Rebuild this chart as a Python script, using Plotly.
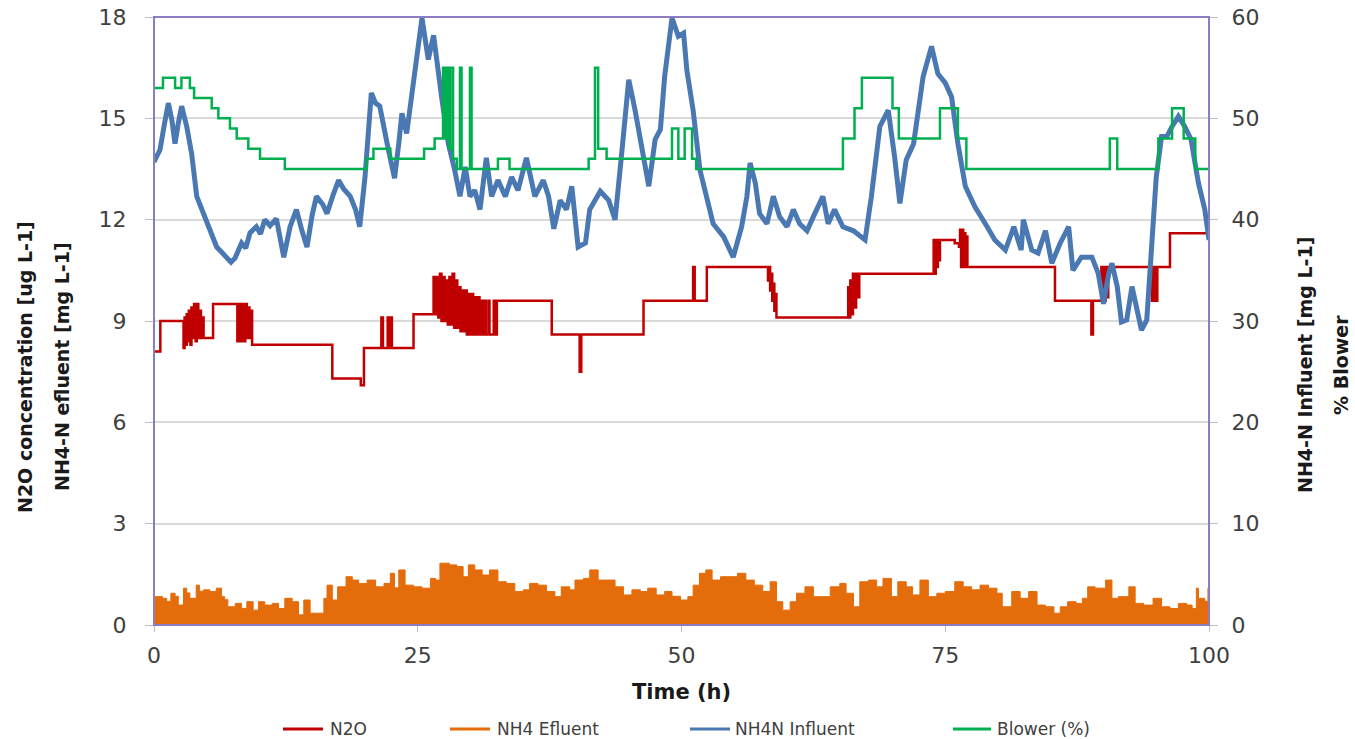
import plotly.graph_objects as go

# ---------------- data ----------------
time_ticks = [0, 25, 50, 75, 100]

# N2O concentration (left axis) - step series
n2o_t = [0, 0.6, 2.8, 2.9, 3.0, 3.1, 3.2, 3.3, 3.45, 3.55, 3.7, 3.8, 3.95, 4.05, 4.2, 4.3, 4.45, 4.55,
         4.7, 5.6, 7.9, 8.1, 8.3, 8.4, 8.55, 8.65, 8.8, 8.9, 9.05, 9.15, 9.3, 16.9, 19.6, 19.9,
         21.55, 21.7, 22.15, 22.3, 22.45, 22.55, 24.6, 26.5, 26.65, 26.8, 26.95, 27.1, 27.25, 27.4,
         27.55, 27.7, 27.85, 28.0, 28.15, 28.3, 28.45, 28.6, 28.75, 28.9, 29.05, 29.2, 29.35, 29.5,
         29.65, 29.8, 29.95, 30.1, 30.25, 30.4, 30.55, 30.7, 30.85, 31.0, 31.15, 31.3, 31.45, 31.7,
         31.8, 32.2, 32.3, 32.5, 37.7, 40.35, 40.5, 46.4, 51.1, 51.25, 52.4, 58.2, 58.3, 58.4, 58.5,
         58.6, 58.7, 58.8, 58.9, 59.0, 65.8, 65.9, 66.0, 66.1, 66.25, 66.4, 66.55, 66.7, 66.85, 67.0,
         73.9, 74.0, 74.1, 74.2, 74.3, 74.4, 74.5, 75.9, 76.3, 76.4, 76.5, 76.6, 76.7, 76.8, 76.9,
         77.0, 77.1, 85.4, 88.85, 89.0, 89.8, 89.9, 90.0, 90.1, 90.2, 90.3, 90.45, 94.6, 94.7, 94.8,
         94.9, 95.0, 95.1, 96.3, 100]
n2o_v = [8.1, 9.0, 8.2, 9.1, 8.3, 9.2, 8.4, 9.3, 8.3, 9.4, 8.5, 9.5, 8.4, 9.5, 8.5, 9.3, 8.5, 9.1,
         8.5, 9.5, 8.4, 9.5, 8.4, 9.5, 8.4, 9.5, 8.5, 9.4, 8.5, 9.3, 8.3, 7.3, 7.1, 8.2,
         9.1, 8.2, 9.1, 8.2, 9.1, 8.2, 9.2, 10.3, 9.2, 10.3, 9.1, 10.4, 9.0, 10.3,
         9.0, 10.2, 8.9, 10.3, 8.9, 10.4, 8.8, 10.2, 8.8, 10.0, 8.7, 9.9, 8.7, 9.9,
         8.6, 9.8, 8.6, 9.8, 8.6, 9.7, 8.6, 9.7, 8.6, 9.6, 8.6, 9.6, 8.6, 9.6,
         8.6, 9.6, 8.6, 9.6, 8.6, 7.5, 8.6, 9.6, 10.6, 9.6, 10.6, 10.2, 10.6, 9.9, 10.4,
         9.6, 10.1, 9.3, 9.8, 9.1, 10.0, 9.1, 10.2, 9.2, 10.4, 9.4, 10.4, 9.7, 10.4, 10.4,
         11.4, 10.4, 11.4, 10.6, 11.4, 10.8, 11.4, 11.3, 11.2, 11.7, 10.6, 11.7, 10.6, 11.6, 10.6,
         11.5, 10.6, 9.6, 8.6, 9.6, 10.6, 9.6, 10.6, 9.6, 10.6, 9.7, 10.6, 9.6, 10.6, 9.6,
         10.6, 9.6, 10.6, 11.6, 11.6]

# NH4 effluent (left axis)
eff_t = [0, 0.8, 1.2, 1.6, 2.0, 2.3, 2.8, 3.1, 3.4, 4.0, 4.3, 4.7, 5.3, 5.9, 6.4, 6.7, 7.0, 7.7, 8.3,
         8.8, 9.4, 9.9, 10.5, 11.2, 11.8, 12.4, 13.1, 13.7, 14.2, 14.8, 15.4, 16.1, 16.4, 16.9, 17.4,
         18.2, 18.8, 19.4, 20.2, 21.0, 21.8, 22.4, 22.8, 23.2, 23.8, 24.6, 25.4, 26.2, 26.7, 27.1,
         28.0, 28.7, 29.3, 29.8, 30.4, 31.1, 31.8, 32.6, 33.4, 34.2, 35.0, 35.6, 36.4, 37.2, 38.0,
         38.6, 39.4, 39.9, 40.7, 41.3, 42.1, 42.9, 43.7, 44.5, 45.3, 46.1, 46.8, 47.6, 48.4, 49.1,
         49.9, 50.6, 51.1, 51.7, 52.3, 52.9, 53.7, 54.5, 55.3, 56.1, 56.9, 57.7, 58.4, 59.0, 59.6,
         60.3, 60.9, 61.7, 62.5, 63.3, 64.1, 65.0, 65.6, 66.3, 66.9, 67.7, 68.5, 69.1, 69.9, 70.5,
         71.3, 71.9, 72.6, 73.4, 74.2, 75.0, 75.9, 76.7, 77.5, 78.3, 79.1, 79.9, 80.4, 81.3, 82.1,
         82.9, 83.7, 84.5, 85.3, 85.9, 86.6, 87.4, 88.0, 88.5, 89.2, 90.2, 90.8, 91.4, 92.4, 93.0,
         93.8, 94.7, 95.5, 96.3, 97.1, 97.9, 98.4, 98.8, 99.0, 99.6, 99.9, 100]
eff_v = [0.84, 0.79, 0.70, 0.94, 0.85, 0.59, 1.09, 0.95, 0.79, 1.18, 1.00, 1.04, 0.99, 1.09, 0.84, 0.75,
         0.54, 0.64, 0.49, 0.69, 0.44, 0.69, 0.59, 0.64, 0.49, 0.79, 0.69, 0.30, 0.74, 0.35, 0.35,
         0.79, 1.18, 0.74, 1.13, 1.43, 1.33, 1.23, 1.33, 1.13, 1.23, 1.53, 1.10, 1.63, 1.18, 1.13,
         1.09, 1.38, 1.33, 1.83, 1.78, 1.73, 1.43, 1.78, 1.63, 1.48, 1.63, 1.28, 1.23, 0.99, 1.04,
         1.23, 1.18, 0.99, 0.84, 1.13, 1.04, 1.33, 1.38, 1.63, 1.33, 1.33, 1.13, 0.89, 1.04, 0.99,
         1.09, 0.89, 0.99, 0.85, 0.74, 0.84, 1.18, 1.53, 1.63, 1.33, 1.43, 1.43, 1.53, 1.33, 1.18,
         0.99, 1.28, 0.69, 0.44, 0.69, 0.94, 1.13, 0.84, 0.84, 1.13, 1.23, 0.94, 0.54, 1.28, 1.33,
         1.13, 1.38, 0.84, 1.28, 1.13, 0.89, 1.33, 0.84, 0.94, 0.99, 1.28, 1.13, 1.04, 1.18, 1.09,
         0.94, 0.54, 0.99, 0.79, 0.99, 0.59, 0.54, 0.35, 0.54, 0.69, 0.64, 0.79, 1.13, 1.09, 1.33,
         0.79, 0.84, 1.13, 0.64, 0.59, 0.79, 0.54, 0.49, 0.64, 0.59, 0.49, 1.09, 0.79, 0.70, 1.09, 1.09]

# NH4-N influent (right axis)
inf_t = [0, 0.57, 1.0, 1.36, 1.7, 1.99, 2.3, 2.62, 3.1, 3.57, 4.05, 4.52, 5.3, 5.94, 6.4, 6.9, 7.3,
         7.68, 8.3, 8.7, 9.1, 9.7, 10.1, 10.5, 11.0, 11.6, 12.3, 12.9, 13.5, 14.0, 14.5, 15.0, 15.4,
         16.0, 16.4, 17.0, 17.5, 18.0, 18.6, 19.1, 19.5, 20.0, 20.6, 21.0, 21.4, 22.1, 22.8, 23.2,
         23.5, 23.95, 24.5, 24.9, 25.4, 26.0, 26.5, 27.3, 27.9, 28.5, 29.0, 29.5, 29.95, 30.4, 30.9,
         31.5, 32.0, 32.6, 33.3, 33.9, 34.5, 35.3, 36.1, 36.9, 37.4, 37.9, 38.5, 39.1, 39.6, 40.2,
         40.9, 41.3, 42.3, 43.1, 43.7, 44.3, 45.0, 45.6, 46.2, 46.9, 47.5, 48.0, 48.4, 49.1, 49.7,
         50.2, 50.5, 51.1, 51.75, 52.4, 53.0, 54.0, 54.9, 55.7, 56.2, 56.5, 57.0, 57.4, 58.1, 58.7,
         59.3, 60.0, 60.6, 61.2, 61.9, 62.5, 63.4, 63.9, 64.5, 65.3, 66.3, 67.4, 68.0, 68.8, 69.6,
         70.2, 70.7, 71.3, 72.0, 72.9, 73.7, 74.3, 75.0, 75.6, 76.2, 76.9, 77.8, 78.8, 79.7, 80.7,
         81.5, 82.2, 82.4, 83.2, 83.8, 84.5, 85.1, 85.9, 86.7, 87.1, 87.9, 88.9, 89.5, 90.0, 90.5,
         90.8, 91.3, 91.7, 92.2, 92.7, 93.6, 94.1, 94.6, 95.0, 95.5, 96.0, 96.5, 97.1, 97.7, 98.3,
         99.0, 99.6, 100]
inf_v = [45.7, 46.9, 49.5, 51.5, 49.8, 47.5, 49.5, 51.2, 49.2, 46.5, 42.3, 41.0, 39.0, 37.3, 36.8,
         36.2, 35.8, 36.2, 37.7, 37.2, 38.7, 39.3, 38.6, 40.0, 39.4, 40.1, 36.3, 39.3, 41.0, 39.0,
         37.3, 40.5, 42.3, 41.5, 40.6, 42.5, 43.9, 43.0, 42.3, 41.0, 39.3, 44.2, 52.5, 51.5, 51.2,
         47.5, 44.1, 47.5, 50.5, 48.5, 53.0, 55.8, 59.9, 55.8, 58.2, 51.8, 47.5, 44.9, 42.3, 45.2,
         42.3, 42.9, 41.0, 46.1, 42.3, 43.9, 42.3, 44.2, 42.9, 46.1, 42.3, 43.9, 42.3, 39.1, 41.9,
         41.0, 43.3, 37.3, 37.7, 41.0, 42.8, 41.9, 40.0, 46.2, 53.8, 50.8, 47.2, 43.3, 47.9, 48.9,
         54.1, 59.9, 58.1, 58.4, 54.8, 50.8, 44.9, 42.3, 39.6, 38.3, 36.3, 39.3, 42.3, 45.6, 43.6,
         40.6, 39.6, 42.3, 40.3, 39.3, 41.0, 39.6, 38.9, 40.3, 42.3, 39.6, 41.0, 39.3, 38.9, 38.0,
         42.3, 49.2, 50.8, 46.2, 41.6, 45.9, 47.5, 54.1, 57.1, 54.4, 53.5, 52.1, 47.5, 43.3, 41.3,
         39.6, 38.0, 37.0, 39.3, 37.0, 40.0, 37.0, 36.7, 38.9, 35.7, 37.7, 39.3, 35.0, 36.3, 36.3,
         34.7, 31.7, 34.7, 35.7, 33.4, 29.9, 30.1, 33.4, 29.1, 30.1, 37.7, 44.2, 48.2, 48.2, 49.2,
         50.2, 49.2, 47.9, 43.6, 41.0, 38.0]

# Blower % (right axis) - step series
blow_t = [0, 0.85, 2.0, 2.6, 3.4, 3.8, 5.47, 6.1, 7.2, 7.84, 8.94, 10.05, 12.4, 20.16, 20.8, 22.4,
          25.6, 26.6, 27.4, 27.6, 27.75, 27.95, 28.1, 28.35, 28.7, 29.0, 29.15, 29.95, 30.1, 32.6,
          33.7, 41.2, 41.8, 42.1, 42.9, 49.1, 49.7, 50.3, 51.0, 51.4, 65.3, 66.4, 67.1, 70.0, 70.6,
          74.5, 76.2, 77.0, 90.6, 91.3, 95.2, 96.5, 97.6, 98.7, 100]
blow_v = [53, 54, 53, 54, 53, 52, 51, 50, 49, 48, 47, 46, 45, 46, 47, 46,
          47, 48, 55, 48, 55, 47, 55, 46, 45, 55, 45, 55, 45, 46,
          45, 46, 55, 47, 46, 49, 46, 49, 46, 45, 48, 51, 54, 51, 48,
          51, 48, 45, 48, 45, 48, 51, 48, 45, 45]

series_names = ["N2O", "NH4 Efluent", "NH4N Influent", "Blower (%)"]
series_colors = ["#c00000", "#e46c0a", "#4a78b2", "#00b050"]

# ---------------- style ----------------
FONT = "DejaVu Sans"
PURPLE = "#8e7cc3"
W, H = 1355, 739
L, R, T, B = 154, 1209, 17, 625


def px_x(p):
    return (p - L) / (R - L)


def px_y(p):
    return (B - p) / (B - T)


fig = go.Figure()
fig.add_trace(go.Scatter(x=n2o_t, y=n2o_v, name=series_names[0], mode="lines", line_shape="hv",
                         line=dict(color=series_colors[0], width=2.5)))
fig.add_trace(go.Scatter(x=eff_t, y=eff_v, name=series_names[1], mode="lines", line_shape="hv",
                         fill="tozeroy", fillcolor=series_colors[1],
                         line=dict(color=series_colors[1], width=1)))
fig.add_trace(go.Scatter(x=inf_t, y=inf_v, name=series_names[2], mode="lines", yaxis="y2",
                         line=dict(color=series_colors[2], width=5)))
fig.add_trace(go.Scatter(x=blow_t, y=blow_v, name=series_names[3], mode="lines", line_shape="hv",
                         yaxis="y2", line=dict(color=series_colors[3], width=2.5)))

tickfont = dict(family=FONT, size=22, color="#404040")
fig.update_layout(
    width=W, height=H,
    margin=dict(l=L, r=W - R, t=T, b=H - B, autoexpand=False),
    paper_bgcolor="white", plot_bgcolor="white",
    font=dict(family=FONT, color="#404040"),
    xaxis=dict(range=[0, 100], tickvals=time_ticks, ticks="outside", ticklen=6,
               tickcolor="#bfbfbf", showgrid=False, zeroline=False, tickfont=tickfont,
               showline=False, automargin=False, ticklabelstandoff=5),
    yaxis=dict(range=[0, 18], dtick=3, ticks="outside", ticklen=8, tickcolor="#bfbfbf",
               showgrid=True, gridcolor="#d9d9d9", gridwidth=2, zeroline=False,
               tickfont=tickfont, showline=False, automargin=False, ticklabelstandoff=14),
    yaxis2=dict(range=[0, 60], dtick=10, overlaying="y", side="right", ticks="outside",
                ticklen=8, tickcolor="#bfbfbf", showgrid=False, zeroline=False,
                tickfont=tickfont, showline=False, automargin=False, ticklabelstandoff=9),
    showlegend=False,
)

# plot border
fig.add_shape(type="rect", xref="paper", yref="paper", x0=0, x1=1, y0=0, y1=1,
              line=dict(color=PURPLE, width=2), layer="above")

# manual legend (line sample + label), bottom row
leg_line_x = [(283, 323), (450, 490), (690, 730), (953, 991)]
leg_text_x = [328, 495, 733, 995]
leg_y = px_y(729)
for (x0, x1), tx, nm, col in zip(leg_line_x, leg_text_x, series_names, series_colors):
    fig.add_shape(type="line", xref="paper", yref="paper", x0=px_x(x0), x1=px_x(x1),
                  y0=leg_y, y1=leg_y, line=dict(color=col, width=3))
    fig.add_annotation(xref="paper", yref="paper", x=px_x(tx), y=leg_y, text=nm,
                       xanchor="left", yanchor="middle", showarrow=False,
                       font=dict(family=FONT, size=17, color="#404040"))

title_font = dict(family=FONT, size=19, color="#1a1a1a")
annos = [
    dict(text="<b>N2O concentration [ug L-1]</b>", x=px_x(25), y=px_y(367), textangle=-90),
    dict(text="<b>NH4-N efluent [mg L-1]</b>", x=px_x(62), y=px_y(367), textangle=-90),
    dict(text="<b>NH4-N Influent [mg L-1]</b>", x=px_x(1305), y=px_y(365), textangle=-90),
    dict(text="<b>% Blower</b>", x=px_x(1341), y=px_y(365), textangle=-90),
    dict(text="<b>Time (h)</b>", x=px_x(681), y=px_y(692), textangle=0,
         font=dict(family=FONT, size=21, color="#1a1a1a")),
]
for a in annos:
    f = a.pop("font", title_font)
    fig.add_annotation(xref="paper", yref="paper", xanchor="center", yanchor="middle",
                       showarrow=False, font=f, **a)

fig.write_html("out.html", config={"displayModeBar": False},
               post_script="document.body.style.margin='0';")
